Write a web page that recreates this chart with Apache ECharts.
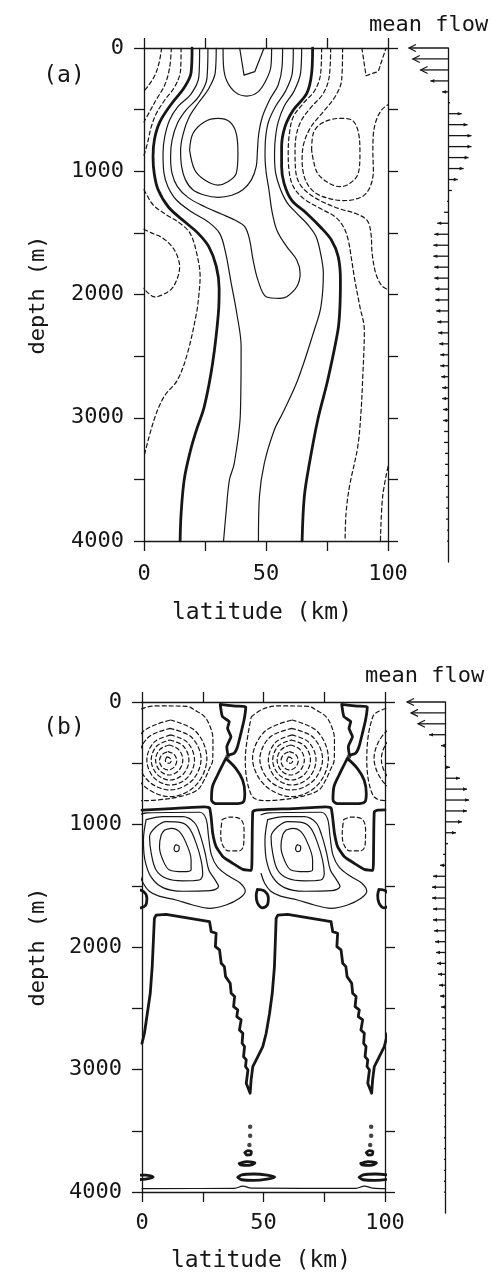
<!DOCTYPE html>
<html>
<head>
<meta charset="UTF-8">
<title>mean flow sections</title>
<script src="https://cdn.jsdelivr.net/npm/echarts@6.0.0/dist/echarts.min.js"></script>
<style>
  html, body { margin: 0; padding: 0; background: #fff; }
  #chart { width: 492px; height: 1280px; }
</style>
</head>
<body>
<div id="chart"></div>
<script>
// ---------- axes ----------
var latTicks = [0, 50, 100];
var depthTicks = [0, 1000, 2000, 3000, 4000];

// ---------- mean flow profiles (arrow length, px units; negative = westward) ----------
var flowDepth = [0, 89, 178, 267, 356, 444, 533, 622, 711, 800, 889, 978, 1067, 1156, 1244, 1333,
  1422, 1511, 1600, 1689, 1778, 1867, 1956, 2044, 2133, 2222, 2311, 2400, 2489, 2578, 2667, 2756,
  2844, 2933, 3022, 3111, 3200, 3289, 3378, 3467, 3556, 3644, 3733, 3822, 3911, 4000];
var flowA = [-40, -36, -28, -18, -6, 2, 14, 20, 24, 24, 21, 16, 10, 4, -1, -4, -11, -14, -15, -15,
  -14, -14, -13, -13, -12, -11, -10, -9, -8, -8, -7, -6, -6, -5, -5, -4, -4, -3, -3, -3, -2, -2, -2, -2, -1, -1];
var flowB = [-38, -34, -27, -16, -4, -1, 5, 15, 22, 24, 22, 17, 11, 3, -2, -5, -12, -13, -13, -12,
  -12, -11, -10, -9, -8, -7, -6, -5, -4, -3, -3, -3, -2, -2, -2, -2, -2, -1, -1, -1, -1, -1, -1, -1, -1, -1];

// ---------- panel (a) contours, [latitude km, depth m] ----------
var aZeroL = [[19.7,0],[19.3,200],[16.5,320],[11,460],[6.5,600],[4.3,740],[3.7,880],[4.2,1020],[5.8,1150],[10,1290],[16.7,1410],[22,1500],[26.5,1610],[29.6,1770],[30.8,1950],[30.5,2150],[28.1,2560],[24.7,2910],[21.5,3100],[19,3270],[16.5,3500],[15.2,3780],[14.8,4000]];
var aZeroR = [[69.1,0],[68.7,206],[66.7,368],[61.2,503],[57.8,638],[56.4,801],[56.4,963],[57.4,1098],[60.5,1234],[66.7,1342],[72.2,1450],[76.8,1558],[79.6,1693],[80.5,1883],[80.3,2100],[79.5,2288],[75.3,2694],[71.2,3018],[67.8,3370],[65.7,3640],[64.8,4000]];
var aPos1L = [[22.8,0],[22.5,230],[19.4,370],[13.9,476],[10.5,584],[8.5,720],[7.8,855],[8.2,1017],[9.8,1125],[13.3,1233],[19.4,1328],[26.2,1409],[31,1504],[33.5,1666],[35.5,1883],[38,2150],[39.8,2423],[39.5,2964],[37,3370],[35,3505],[33.6,3776],[32.6,4000]];
var aPos1R = [[64.6,0],[64.2,200],[61.5,350],[57.5,470],[55,600],[53.8,740],[53.5,880],[54,1020],[55.8,1140],[58.5,1250],[62.5,1340],[67,1430],[70.5,1530],[72.5,1680],[73.5,1830],[72.5,2100],[69.8,2288],[63,2694],[56.8,2964],[53.4,3099],[49.3,3370],[47.3,3640],[46.9,4000]];
var aPos2 = [[26.2,0],[25.8,246],[22.4,395],[17.3,503],[13.7,611],[11.5,747],[10.9,882],[11.5,1017],[13.7,1125],[18,1212],[24.9,1288],[31.7,1347],[37.2,1396],[41.3,1450],[43.3,1558],[44.7,1720],[46.7,1883],[50.1,2018],[55.7,2031],[58.5,2018],[62.6,1937],[64,1829],[62.6,1720],[58.5,1612],[54.5,1480],[52.5,1330],[51.2,1150],[50,1000],[49.6,880],[49.8,740],[51,600],[54,470],[58,350],[60.8,200],[61.2,0]];
var aPos3 = [[29.6,0],[29.2,200],[26.5,330],[22.5,440],[18.5,560],[16,700],[15,830],[15.4,960],[17,1070],[20,1150],[25,1195],[30.3,1212],[36,1195],[40.5,1150],[44,1070],[46,960],[46.5,830],[47,700],[48.5,560],[51.5,420],[55,300],[56.6,150],[56.8,0]];
var aPos4 = [[32.4,0],[32.6,150],[34,270],[37.5,360],[42,390],[46.5,360],[49.8,270],[52,150],[52.3,0]];
var aPosOval = [[18.7,828],[20.1,692],[24.9,598],[30.3,571],[35.1,598],[37.8,692],[38.5,855],[37.8,1017],[34.4,1085],[30.3,1112],[24.9,1071],[20.8,990],[18.7,828]];
var aPosCap = [[39.2,0],[41,220],[45.4,192],[49.2,0]];
var aNeg1L = [[15.2,0],[15,179],[12.6,314],[8.5,422],[5.1,530],[3,638],[1.4,774],[0,870]];
var aNeg1Mid = [[0,1150],[0.8,1179],[3.8,1274],[9.3,1355],[14.8,1423],[18.9,1504],[21.6,1666],[23,1856],[22.5,2000],[21.5,2152],[17.8,2477],[13.7,2694],[8.2,2829],[4.1,3018],[0,3316]];
var aNeg1Bot = [[100,3397],[97.8,3640],[96.9,4000]];
var aNeg2L = [[11.2,0],[10.5,160],[8.5,300],[5,420],[2.2,520],[0,600]];
var aNeg2Edge = [[0,1470],[3,1500],[7.1,1535],[11,1600],[13.5,1680],[14.6,1774],[13.8,1860],[11.5,1950],[7.8,2000],[4.4,2020],[1.5,1985],[0,1950]];
var aNeg3L = [[7.2,0],[6.3,110],[4.5,220],[2,300],[0,350]];
var aNeg1R = [[72.8,0],[72.4,206],[70.1,341],[65.3,449],[61.2,557],[59.6,692],[59.1,855],[59.6,1017],[61.2,1125],[65.3,1220],[72.1,1301],[78.3,1369],[81.7,1450],[83.7,1558],[85.1,1720],[86.4,1883],[88.5,2100],[90.3,2288],[89.6,2694],[88.9,2964],[87.6,3235],[84.2,3559],[82.8,3776],[82.4,4000]];
var aNeg2R = [[76.5,0],[75.9,233],[73.5,368],[68.7,476],[64.6,584],[62.3,720],[61.9,855],[62.3,1017],[64.6,1125],[69.4,1206],[75,1265],[81,1310],[87,1345],[91.5,1400],[93,1504],[93.5,1666],[95,1829],[97.5,1930],[100,1960]];
var aNeg3R = [[81.4,0],[81,260],[78.3,395],[73.5,517],[68.5,638],[65.5,774],[64.8,909],[65.5,1030],[67.5,1120],[71,1185],[76,1222],[81.5,1238],[86.5,1228],[90.5,1190],[93,1110],[94,990],[93.8,850],[94,700],[95.3,580],[97.5,500],[100,460]];
var aNegOval = [[68.7,828],[69.4,692],[72.8,611],[80.3,571],[85.1,584],[87.8,679],[88.5,855],[87.8,1017],[84.4,1098],[80.3,1125],[74.9,1085],[70.8,1004],[68.7,828]];
var aNegCap = [[89.3,0],[91,225],[96,190],[99.2,0]];

// ---------- panel (b) contours ----------
var bNegRing1 = [[10.2,448],[11.5,458],[12,480],[11.3,500],[10.3,498],[9.6,478],[10.2,448]];
var bNegRing2 = [[10.75,405],[13.2,428],[14.3,480],[13.2,532],[10.75,555],[8.3,532],[7.2,480],[8.3,428],[10.75,405]];
var bNegRing3 = [[11.2,351],[15.1,388],[16.8,473],[15.1,559],[11.2,596],[7.3,559],[5.6,473],[7.3,388],[11.2,351]];
var bNegRing4 = [[11.5,310],[17,359],[19.3,473],[17,588],[11.5,637],[6.1,588],[3.8,473],[6.1,359],[11.5,310]];
var bNegRing5 = [[11.8,269],[18.7,330],[21.6,473],[18.7,617],[11.8,678],[4.9,617],[2,473],[4.9,330],[11.8,269]];
var bNegRing6 = [[11.6,215],[20.5,290],[24.3,466],[20.5,643],[11.6,718],[2.5,643],[-1.5,466],[2.5,290],[11.6,215]];
var bNegRing7 = [[11.8,147],[22.2,241],[26.7,460],[22.2,679],[11.8,773],[0.5,679],[-4.5,460],[0.5,241],[11.8,147]];
var bNegRing8 = [[-5,120],[0,55],[6,32],[18.5,35],[22,70],[25.5,115],[27.6,180],[29.2,300],[29.1,473],[27.6,550],[25.6,637],[22.8,718],[16,770],[6.4,800],[0,805],[-5,760],[-7.5,470],[-5,120]];
var bNegRing1R = [[60.2,448],[61.5,458],[62,480],[61.3,500],[60.3,498],[59.6,478],[60.2,448]];
var bNegRing2R = [[60.75,405],[63.2,428],[64.3,480],[63.2,532],[60.75,555],[58.3,532],[57.2,480],[58.3,428],[60.75,405]];
var bNegRing3R = [[61.2,351],[65.1,388],[66.8,473],[65.1,559],[61.2,596],[57.3,559],[55.6,473],[57.3,388],[61.2,351]];
var bNegRing4R = [[61.5,310],[67,359],[69.3,473],[67,588],[61.5,637],[56.1,588],[53.8,473],[56.1,359],[61.5,310]];
var bNegRing5R = [[61.8,269],[68.7,330],[71.6,473],[68.7,617],[61.8,678],[54.9,617],[52,473],[54.9,330],[61.8,269]];
var bNegRing6R = [[61.6,215],[70.5,290],[74.3,466],[70.5,643],[61.6,718],[52.5,643],[48.5,466],[52.5,290],[61.6,215]];
var bNegRing7R = [[61.8,147],[72.2,241],[76.7,460],[72.2,679],[61.8,773],[50.5,679],[45.5,460],[50.5,241],[61.8,147]];
var bNegRing8R = [[45,120],[50,55],[56,32],[68.5,35],[72,70],[75.5,115],[77.6,180],[79.2,300],[79.1,473],[77.6,550],[75.6,637],[72.8,718],[66,770],[56.4,800],[50,805],[45,760],[42.5,470],[45,120]];
var bNegRing6W = [[111.6,215],[102.5,290],[98.5,466],[102.5,643],[111.6,718]];
var bNegRing7W = [[111.8,147],[100.5,241],[95.5,460],[100.5,679],[111.8,773]];
var bNegRing8W = [[106,32],[100,55],[95,120],[92.5,470],[95,760],[100,805],[106.4,800]];
var bNegSmall = [[33,960],[36,940],[40.5,955],[42,1040],[41.8,1170],[40,1215],[35.5,1215],[33,1160],[32.4,1070],[33,960]];
var bNegSmallR = [[83,960],[86,940],[90.5,955],[92,1040],[91.8,1170],[90,1215],[85.5,1215],[83,1160],[82.4,1070],[83,960]];

var bFlag = [[32.2,20],[38.6,33],[42.7,38],[42,147],[40.7,256],[39.3,365],[37.9,419],[35.5,433],[34.9,365],[36.6,283],[35.2,215],[35.9,160],[33.1,120],[32.2,20]];
var bFlagR = [[82.2,20],[88.6,33],[92.7,38],[92,147],[90.7,256],[89.3,365],[87.9,419],[85.5,433],[84.9,365],[86.6,283],[85.2,215],[85.9,160],[83.1,120],[82.2,20]];
var bWedge = [[34.5,460],[38.6,541],[41.4,637],[42.3,745],[41.8,813],[37.9,830],[30.4,830],[28.6,800],[29,691],[31.1,596],[33.5,500],[34.5,460]];
var bWedgeR = [[84.5,460],[88.6,541],[91.4,637],[92.3,745],[91.8,813],[87.9,830],[80.4,830],[78.6,800],[79,691],[81.1,596],[83.5,500],[84.5,460]];
var bZeroLine = [[0,882],[12,870],[25.6,856],[27.8,865],[28.5,950],[29.1,1072],[30.5,1181],[33.3,1263],[37.4,1317],[41.5,1366],[45,1375],[45.3,1200],[45.6,895],[47,882],[62,870],[75.6,856],[77.8,865],[78.5,950],[79.2,1072],[80.5,1181],[83.3,1263],[87.4,1317],[91.5,1366],[95,1375],[95.3,1200],[95.6,895],[97,882],[100,880]];

var bPosRing0 = [[14,1165],[15.3,1180],[15.2,1210],[14,1222],[13.2,1200],[13.5,1175],[14,1165]];
var bPosRing1 = [[9.3,1045],[12,1031],[15.4,1058],[18.2,1154],[20.2,1290],[20.2,1371],[16.8,1385],[11.3,1371],[8.6,1290],[7.2,1181],[7.9,1085],[9.3,1045]];
var bPosRing2 = [[5.8,1018],[9.9,977],[16.1,985],[19.5,1031],[22.3,1154],[24.3,1290],[25,1399],[23.6,1453],[16.8,1460],[9.9,1439],[5.8,1371],[3.8,1235],[3.1,1099],[5.8,1018]];
var bPosRing3 = [[1.7,960],[8.6,936],[16.8,936],[21.6,985],[23.9,1085],[26,1235],[27.5,1371],[30,1450],[31.5,1507],[28,1540],[16.8,1545],[8.6,1515],[3.8,1430],[1.2,1290],[0.6,1126],[1.7,960]];
var bPosRing4 = [[-1,920],[2,905],[23.7,900],[26.3,950],[27.4,1100],[28.6,1250],[31.2,1350],[36,1425],[40.5,1480],[42.5,1545],[40,1605],[34.6,1657],[27.8,1684],[20.9,1657],[14,1616],[7,1585],[3,1545],[0.5,1480],[-1,1400]];
var bPosRing0R = [[64,1165],[65.3,1180],[65.2,1210],[64,1222],[63.2,1200],[63.5,1175],[64,1165]];
var bPosRing1R = [[59.3,1045],[62,1031],[65.4,1058],[68.2,1154],[70.2,1290],[70.2,1371],[66.8,1385],[61.3,1371],[58.6,1290],[57.2,1181],[57.9,1085],[59.3,1045]];
var bPosRing2R = [[55.8,1018],[59.9,977],[66.1,985],[69.5,1031],[72.3,1154],[74.3,1290],[75,1399],[73.6,1453],[66.8,1460],[59.9,1439],[55.8,1371],[53.8,1235],[53.1,1099],[55.8,1018]];
var bPosRing3R = [[51.7,960],[58.6,936],[66.8,936],[71.6,985],[73.9,1085],[76,1235],[77.5,1371],[80,1450],[81.5,1507],[78,1540],[66.8,1545],[58.6,1515],[53.8,1430],[51.2,1290],[50.6,1126],[51.7,960]];
var bPosRing4R = [[49,920],[52,905],[73.7,900],[76.3,950],[77.4,1100],[78.6,1250],[81.2,1350],[86,1425],[90.5,1480],[92.5,1545],[90,1605],[84.6,1657],[77.8,1684],[70.9,1657],[64,1616],[57,1585],[53,1545],[50.5,1480],[49,1400]];

var bLoop = [[47.5,1530],[50.5,1545],[52,1600],[51.5,1660],[49.5,1680],[47.5,1640],[47,1580],[47.5,1530]];
var bLoopR = [[97.5,1530],[100.5,1545],[102,1600],[101.5,1660],[99.5,1680],[97.5,1640],[97,1580],[97.5,1530]];
var bLoopW = [[-2.5,1530],[0.5,1545],[2,1600],[1.5,1660],[-0.5,1680]];

var bZigzag = [[0,2786],[1,2704],[2.4,2514],[3.4,2378],[4.2,2160],[4.7,1943],[5.1,1766],[5.8,1739],[9.9,1733],[27.8,1793],[28.5,1875],[30.5,1888],[30.2,1997],[31.9,2024],[32.6,2133],[33.9,2160],[34.4,2242],[36.3,2296],[36.7,2378],[38.1,2405],[37.7,2487],[39.4,2514],[39,2568],[40.8,2595],[40.1,2677],[41.5,2704],[41.2,2786],[42.2,2813],[41.8,2895],[42.9,2922],[42.6,2976],[43.6,3004],[42.9,3113],[44.5,3194],[44.9,3085],[45.6,2976],[47,2922],[49.7,2813],[51.1,2704],[52.5,2541],[53.6,2378],[54.5,2160],[54.9,1943],[55.2,1766],[55.9,1739],[59.9,1733],[77.8,1793],[78.5,1875],[80.5,1888],[80.2,1997],[81.9,2024],[82.6,2133],[83.9,2160],[84.4,2242],[86.3,2296],[86.7,2378],[88.1,2405],[87.7,2487],[89.4,2514],[89,2568],[90.8,2595],[90.1,2677],[91.5,2704],[91.2,2786],[92.2,2813],[91.8,2895],[92.9,2922],[92.6,2976],[93.6,3004],[92.9,3113],[94.5,3194],[94.9,3085],[95.6,2976],[97,2922],[99.7,2813],[101.1,2704]];

var bBotA = [[42.3,3679],[43.5,3662],[45,3672],[44.8,3694],[43.2,3698],[42.3,3679]];
var bBotB = [[40,3768],[43,3752],[46.5,3763],[44,3782],[40.5,3778],[40,3768]];
var bBotC = [[39.4,3880],[41,3860],[46,3853],[51.5,3862],[54.6,3878],[51.5,3895],[46,3905],[41,3900],[39.4,3880]];
var bBotAR = [[92.3,3679],[93.5,3662],[95,3672],[94.8,3694],[93.2,3698],[92.3,3679]];
var bBotBR = [[90,3768],[93,3752],[96.5,3763],[94,3782],[90.5,3778],[90,3768]];
var bBotCR = [[89.4,3880],[91,3860],[96,3853],[101.5,3862],[104.6,3878],[101.5,3895],[96,3905],[91,3900],[89.4,3880]];
var bBotCW = [[-1.5,3862],[1.5,3862],[4.6,3878],[1.5,3895],[-1.5,3898]];
var bBottomLine = [[0,3972],[38,3970],[41.5,3952],[45,3968],[88,3970],[91.5,3952],[95,3968],[100,3972]];
var bDots = [[44.5,3467],[44.5,3540],[44.2,3616],[94.3,3467],[94.3,3540],[93.9,3616],[35.2,445],[85.2,445]];

// ---------- chart ----------
var FONT = "'DejaVu Sans Mono', monospace";
var INK = '#161616';
var chart = echarts.init(document.getElementById('chart'));

var STYLES = {
  thin: { width: 1.2, type: 'solid' },
  thick: { width: 2.8, type: 'solid' },
  dash: { width: 1.2, type: [4, 3] }
};

function contour(data, kind, panel, smooth) {
  var s = STYLES[kind];
  return {
    type: 'line', data: data,
    xAxisIndex: panel === 'a' ? 0 : 3, yAxisIndex: panel === 'a' ? 0 : 3,
    symbol: 'none', showSymbol: false, silent: true,
    smooth: smooth === undefined ? 0.35 : smooth,
    lineStyle: { color: INK, width: s.width, type: s.type, cap: 'round', join: 'round' },
    z: kind === 'thick' ? 4 : 3
  };
}

function frameX(grid, pos, labelMargin) {
  return {
    gridIndex: grid, type: 'value', position: pos, min: 0, max: 100, interval: 25,
    axisLine: { show: true, onZero: false, lineStyle: { color: INK, width: 1.3 } },
    axisTick: { show: true, inside: false, length: 10, lineStyle: { color: INK, width: 1.3 } },
    axisLabel: {
      show: pos === 'bottom', margin: labelMargin, color: INK, fontSize: 22, fontFamily: FONT,
      formatter: function (v) { return latTicks.indexOf(v) >= 0 ? String(v) : ''; }
    },
    splitLine: { show: false }
  };
}
function frameY(grid, pos) {
  return {
    gridIndex: grid, type: 'value', position: pos, inverse: true, min: 0, max: 4000, interval: 500,
    axisLine: { show: true, onZero: false, lineStyle: { color: INK, width: 1.3 } },
    axisTick: { show: true, inside: false, length: 10, lineStyle: { color: INK, width: 1.3 } },
    axisLabel: {
      show: pos === 'left', margin: 20, color: INK, fontSize: 22, fontFamily: FONT,
      formatter: function (v) { return depthTicks.indexOf(v) >= 0 ? String(v) : ''; }
    },
    splitLine: { show: false }
  };
}
function flowX(grid) {
  return { gridIndex: grid, type: 'value', min: -45, max: 45,
    axisLine: { show: false }, axisTick: { show: false }, axisLabel: { show: false }, splitLine: { show: false } };
}
function flowY(grid) {
  return { gridIndex: grid, type: 'value', inverse: true, min: 0, max: 4170,
    axisLine: { show: true, onZero: true, lineStyle: { color: INK, width: 1.3 } },
    axisTick: { show: false }, axisLabel: { show: false }, splitLine: { show: false } };
}

function arrowItem(params, api) {
  var u = api.value(0), d = api.value(1);
  var p0 = api.coord([0, d]), p1 = api.coord([u, d]);
  var dir = u < 0 ? -1 : 1;
  var len = Math.abs(p1[0] - p0[0]);
  var kids = [{ type: 'line', shape: { x1: p0[0], y1: p0[1], x2: p1[0], y2: p1[1] },
    style: { stroke: INK, lineWidth: 1.3 } }];
  if (len >= 25) {
    var bx = p1[0] - dir * 7;
    kids.push({ type: 'polyline', shape: { points: [[bx, p1[1] - 3.5], [p1[0], p1[1]], [bx, p1[1] + 3.5]] },
      style: { stroke: INK, lineWidth: 1.2, fill: null } });
  } else if (len >= 4) {
    var hx = p1[0] - dir * 4;
    kids.push({ type: 'polygon', shape: { points: [[p1[0], p1[1]], [hx, p1[1] - 1.8], [hx, p1[1] + 1.8]] },
      style: { fill: INK } });
  }
  return { type: 'group', children: kids };
}
function flowSeries(vals, axisIdx) {
  var data = flowDepth.map(function (d, i) { return [vals[i], d]; });
  return { type: 'custom', xAxisIndex: axisIdx, yAxisIndex: axisIdx, data: data,
    renderItem: arrowItem, silent: true, clip: false, z: 5 };
}

var series = [
  // panel (a)
  contour(aZeroL, 'thick', 'a'), contour(aZeroR, 'thick', 'a'),
  contour(aPos1L, 'thin', 'a'), contour(aPos1R, 'thin', 'a'),
  contour(aPos2, 'thin', 'a'), contour(aPos3, 'thin', 'a'), contour(aPos4, 'thin', 'a'),
  contour(aPosOval, 'thin', 'a'), contour(aPosCap, 'thin', 'a', 0),
  contour(aNeg1L, 'dash', 'a'), contour(aNeg1Mid, 'dash', 'a'), contour(aNeg1Bot, 'dash', 'a'),
  contour(aNeg2L, 'dash', 'a'), contour(aNeg2Edge, 'dash', 'a'), contour(aNeg3L, 'dash', 'a'),
  contour(aNeg1R, 'dash', 'a'), contour(aNeg2R, 'dash', 'a'), contour(aNeg3R, 'dash', 'a'),
  contour(aNegOval, 'dash', 'a'), contour(aNegCap, 'dash', 'a', 0),
  flowSeries(flowA, 2),
  // panel (b)
  contour(bNegRing1, 'dash', 'b'), contour(bNegRing2, 'dash', 'b'), contour(bNegRing3, 'dash', 'b'),
  contour(bNegRing4, 'dash', 'b'), contour(bNegRing5, 'dash', 'b'), contour(bNegRing6, 'dash', 'b'),
  contour(bNegRing7, 'dash', 'b'), contour(bNegRing8, 'dash', 'b'),
  contour(bNegRing1R, 'dash', 'b'), contour(bNegRing2R, 'dash', 'b'), contour(bNegRing3R, 'dash', 'b'),
  contour(bNegRing4R, 'dash', 'b'), contour(bNegRing5R, 'dash', 'b'), contour(bNegRing6R, 'dash', 'b'),
  contour(bNegRing7R, 'dash', 'b'), contour(bNegRing8R, 'dash', 'b'),
  contour(bNegRing6W, 'dash', 'b'), contour(bNegRing7W, 'dash', 'b'), contour(bNegRing8W, 'dash', 'b'),
  contour(bNegSmall, 'dash', 'b'), contour(bNegSmallR, 'dash', 'b'),
  contour(bFlag, 'thick', 'b', 0.15), contour(bFlagR, 'thick', 'b', 0.15),
  contour(bWedge, 'thick', 'b', 0.3), contour(bWedgeR, 'thick', 'b', 0.3),
  contour(bZeroLine, 'thick', 'b', 0.15),
  contour(bPosRing0, 'thin', 'b'), contour(bPosRing1, 'thin', 'b'), contour(bPosRing2, 'thin', 'b'),
  contour(bPosRing3, 'thin', 'b'), contour(bPosRing4, 'thin', 'b'),
  contour(bPosRing0R, 'thin', 'b'), contour(bPosRing1R, 'thin', 'b'), contour(bPosRing2R, 'thin', 'b'),
  contour(bPosRing3R, 'thin', 'b'), contour(bPosRing4R, 'thin', 'b'),
  contour(bLoop, 'thick', 'b'), contour(bLoopR, 'thick', 'b'), contour(bLoopW, 'thick', 'b'),
  contour(bZigzag, 'thick', 'b', 0),
  contour(bBotA, 'thick', 'b'), contour(bBotB, 'thick', 'b'), contour(bBotC, 'thick', 'b'),
  contour(bBotAR, 'thick', 'b'), contour(bBotBR, 'thick', 'b'), contour(bBotCR, 'thick', 'b'),
  contour(bBotCW, 'thick', 'b'),
  contour(bBottomLine, 'thin', 'b'),
  { type: 'scatter', xAxisIndex: 3, yAxisIndex: 3, data: bDots, symbol: 'circle', symbolSize: 4.5,
    itemStyle: { color: INK }, silent: true, z: 5 },
  flowSeries(flowB, 5)
];

function label(text, x, y, size, rot) {
  return { type: 'text', x: x, y: y, rotation: rot || 0, silent: true,
    style: { text: text, fontSize: size, fontFamily: FONT, fill: INK,
      align: 'center', verticalAlign: 'middle', textAlign: 'center', textVerticalAlign: 'middle' } };
}

var option = {
  animation: false,
  backgroundColor: '#ffffff',
  grid: [
    { left: 144, top: 48, width: 244, height: 493 },
    { left: 404, top: 48, width: 90, height: 514 },
    { left: 142, top: 702, width: 243, height: 490 },
    { left: 400, top: 702, width: 90, height: 511 }
  ],
  xAxis: [frameX(0, 'bottom', 22), frameX(0, 'top', 22), flowX(1),
          frameX(2, 'bottom', 20), frameX(2, 'top', 20), flowX(3)],
  yAxis: [frameY(0, 'left'), frameY(0, 'right'), flowY(1),
          frameY(2, 'left'), frameY(2, 'right'), flowY(3)],
  graphic: [
    label('(a)', 64, 76, 23),
    label('(b)', 64, 728, 23),
    label('latitude (km)', 262, 613, 23),
    label('latitude (km)', 261, 1261, 23),
    label('depth (m)', 38, 295, 22, Math.PI / 2),
    label('depth (m)', 38, 947, 22, Math.PI / 2),
    { type: 'text', x: 369, y: 25, silent: true,
      style: { text: 'mean flow', fontSize: 22, fontFamily: FONT, fill: INK,
        align: 'left', verticalAlign: 'middle', textAlign: 'left', textVerticalAlign: 'middle' } },
    { type: 'text', x: 365, y: 676, silent: true,
      style: { text: 'mean flow', fontSize: 22, fontFamily: FONT, fill: INK,
        align: 'left', verticalAlign: 'middle', textAlign: 'left', textVerticalAlign: 'middle' } }
  ],
  series: series
};
chart.setOption(option);
</script>
</body>
</html>
